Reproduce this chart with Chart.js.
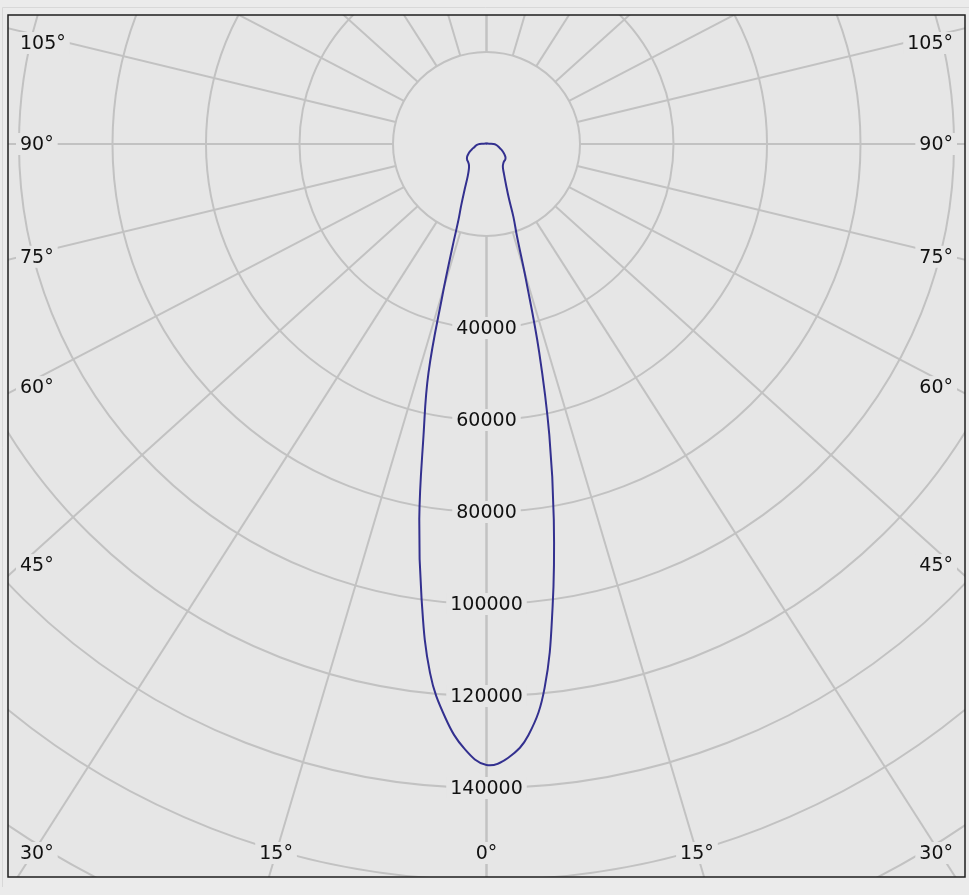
<!DOCTYPE html>
<html>
<head>
<meta charset="utf-8">
<script src="https://cdn.jsdelivr.net/npm/chart.js@4.4.1/dist/chart.umd.min.js"></script>
<style>
  html, body { margin: 0; padding: 0; background: #ebebeb; }
  #wrap { width: 969px; height: 895px; position: relative; }
</style>
</head>
<body>
<div id="wrap"><canvas id="polar-chart"></canvas></div>
<script>
// gamma angles (deg) and luminous intensity (cd) for both half planes
const angles = [0, 2, 4, 6, 8, 10, 12, 14, 16, 18, 20, 22, 25, 30, 35, 40, 45, 50, 55, 60,
  65, 70, 75, 80, 85, 90, 95, 100, 110, 120, 135, 150, 165, 180];
const intensityC0 = [135000, 133500, 128800, 118900, 101600, 82900, 64600, 46500, 30500, 21100,
  16800, 12800, 9950, 7450, 6100, 5570, 5320, 5250, 4950, 4400,
  3850, 3270, 2800, 2430, 2060, 1500, 800, 450, 250, 150, 150, 150, 150, 150];
const intensityC180 = [135000, 131700, 125200, 115600, 99800, 82800, 64800, 51300, 34100, 23600,
  17500, 14500, 11200, 8000, 6550, 5850, 5550, 5400, 5100, 4550,
  3950, 3300, 2700, 2350, 2050, 1500, 800, 450, 250, 150, 150, 150, 150, 150];

const ringValues = [20000, 40000, 60000, 80000, 100000, 120000, 140000, 160000, 180000, 200000];
const ringLabels = [40000, 60000, 80000, 100000, 120000, 140000];
const spokeAngles = [0, 15, 30, 45, 60, 75, 90, 105, 120, 135, 150, 165, 180];
const angleLabels = [0, 15, 30, 45, 60, 75, 90, 105];

const plotBg = "#e6e6e6";
const gridColor = "#c2c2c2";
const textFont = "19px 'DejaVu Sans', Verdana, sans-serif";
const SPOKE_STRETCH = 1.09; // spokes in the original are slightly wider than the rings

function toXY(gamma, value, side) {
  const t = (gamma * Math.PI) / 180;
  return { x: side * value * Math.sin(t), y: -value * Math.cos(t) };
}

// closed outline: left half from 180 down to 0, then right half back up to 180
const curve = [];
for (let i = angles.length - 1; i >= 0; i--) curve.push(toXY(angles[i], intensityC180[i], -1));
for (let i = 1; i < angles.length; i++) curve.push(toXY(angles[i], intensityC0[i], 1));

function drawLabel(ctx, text, x, y, align) {
  ctx.font = textFont;
  const w = ctx.measureText(text).width;
  let left = x - w / 2;
  if (align === "left") left = x;
  if (align === "right") left = x - w;
  ctx.fillStyle = plotBg;
  ctx.fillRect(left - 4, y - 11, w + 8, 22);
  ctx.fillStyle = "#111";
  ctx.textAlign = "left";
  ctx.textBaseline = "middle";
  ctx.fillText(text, left, y + 1);
}

const polarGrid = {
  id: "polarGrid",
  beforeDraw(chart) {
    const { ctx, width, height } = chart;
    ctx.save();
    ctx.fillStyle = "#ebebeb";
    ctx.fillRect(0, 0, width, height);
    ctx.strokeStyle = "#d8d8d8";
    ctx.lineWidth = 1;
    ctx.beginPath();
    ctx.moveTo(2.5, height - 8);
    ctx.lineTo(2.5, 7.5);
    ctx.lineTo(width, 7.5);
    ctx.stroke();
    ctx.restore();
  },
  beforeDatasetsDraw(chart) {
    const { ctx, chartArea: a, scales } = chart;
    const xs = scales.x, ys = scales.y;
    const cx = xs.getPixelForValue(0), cy = ys.getPixelForValue(0);
    const r0 = ringValues[0];
    const rx0 = xs.getPixelForValue(r0) - cx;
    const ry0 = cy - ys.getPixelForValue(r0);

    ctx.save();
    ctx.fillStyle = plotBg;
    ctx.fillRect(a.left, a.top, a.width, a.height);
    ctx.beginPath();
    ctx.rect(a.left, a.top, a.width, a.height);
    ctx.clip();

    ctx.strokeStyle = gridColor;
    ctx.lineWidth = 2;
    ringValues.forEach((r) => {
      const rx = xs.getPixelForValue(r) - cx;
      const ry = cy - ys.getPixelForValue(r);
      ctx.beginPath();
      ctx.ellipse(cx, cy, rx, ry, 0, 0, Math.PI * 2);
      ctx.stroke();
    });

    const dirOf = (deg, side) => {
      const t = (deg * Math.PI) / 180;
      let ux = side * Math.sin(t) * SPOKE_STRETCH * (rx0 / r0);
      let uy = Math.cos(t) * (ry0 / r0);
      const n = Math.hypot(ux, uy);
      return { ux: ux / n, uy: uy / n };
    };

    spokeAngles.forEach((deg) => {
      [1, -1].forEach((side) => {
        const { ux, uy } = dirOf(deg, side);
        const d0 = 1 / Math.sqrt((ux / rx0) ** 2 + (uy / ry0) ** 2);
        ctx.beginPath();
        ctx.moveTo(cx + ux * d0, cy + uy * d0);
        ctx.lineTo(cx + ux * 3000, cy + uy * 3000);
        ctx.stroke();
      });
    });

    // intensity labels on the 0 deg axis
    ringLabels.forEach((r) => {
      drawLabel(ctx, String(r), cx, ys.getPixelForValue(-r), "center");
    });

    // angle labels where the spokes leave the frame
    const L = a.left + 12, R = a.right - 12, T = a.top + 28, B = a.bottom - 24;
    angleLabels.forEach((deg) => {
      const sides = deg === 0 ? [1] : [-1, 1];
      sides.forEach((side) => {
        const text = deg + "°";
        ctx.font = textFont;
        const w = ctx.measureText(text).width;
        const { ux, uy } = dirOf(deg, side);
        const tSide = Math.abs(ux) > 1e-9 ? ((side > 0 ? a.right : a.left) - cx) / ux : Infinity;
        const tBottom = uy > 1e-9 ? (a.bottom - cy) / uy : Infinity;
        if (tBottom < tSide) {
          let x = cx + ux * ((B - cy) / uy);
          x = Math.min(Math.max(x, L + w / 2), R - w / 2);
          drawLabel(ctx, text, x, B, "center");
        } else {
          const edge = side > 0 ? R : L;
          let y = cy + uy * ((edge - cx) / ux);
          y = Math.min(Math.max(y, T), B);
          drawLabel(ctx, text, edge, y, side > 0 ? "right" : "left");
        }
      });
    });
    ctx.restore();
  },
  afterDraw(chart) {
    const { ctx, chartArea: a } = chart;
    ctx.save();
    ctx.strokeStyle = "#1e1e1e";
    ctx.lineWidth = 1.5;
    ctx.strokeRect(a.left, a.top, a.width, a.height);
    ctx.restore();
  },
};

const ctx = document.getElementById("polar-chart").getContext("2d");
const polarChart = new Chart(ctx, {
  type: "scatter",
  data: {
    datasets: [
      {
        label: "C0 / C180",
        data: curve,
        showLine: true,
        borderColor: "#33308f",
        borderWidth: 2,
        pointRadius: 0,
        fill: false,
        tension: 0.4,
      },
    ],
  },
  options: {
    responsive: true,
    maintainAspectRatio: false,
    devicePixelRatio: 1,
    animation: false,
    layout: { padding: { left: 8, top: 15, right: 4, bottom: 18 } },
    plugins: { legend: { display: false }, tooltip: { enabled: false } },
    scales: {
      x: { type: "linear", display: false, min: -102350, max: 102350, bounds: "data" },
      y: { type: "linear", display: false, min: -159350, max: 28040, bounds: "data" },
    },
  },
  plugins: [polarGrid],
});
</script>
</body>
</html>
